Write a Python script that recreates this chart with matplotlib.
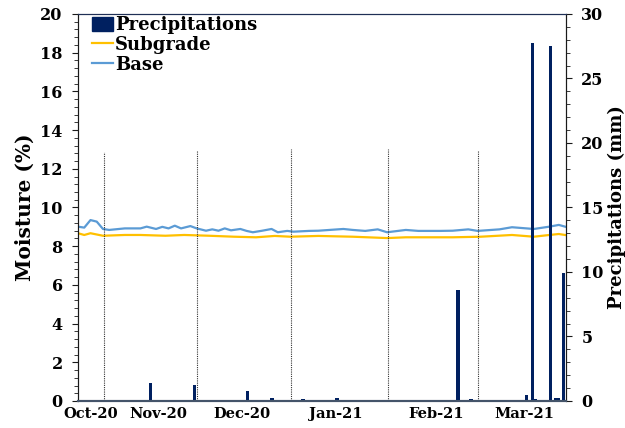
import matplotlib.pyplot as plt
from matplotlib.ticker import MultipleLocator
from matplotlib.patches import Patch
from matplotlib.lines import Line2D

plt.rcParams['font.family'] = ['DejaVu Serif']
plt.rcParams['font.weight'] = 'bold'

# days counted from the start of the record
base_days = [0, 2, 4, 6, 8, 10, 15, 20, 22, 25, 27, 29, 31, 33, 36, 38, 41, 43, 45, 47,
             49, 52, 54, 56, 59, 62, 64, 67, 69, 74, 77, 85, 88, 92, 96, 99, 105, 109,
             116, 120, 125, 128, 135, 139, 146, 151, 154, 156]
base = [9.01, 8.96, 9.35, 9.27, 8.89, 8.84, 8.92, 8.92, 9.01, 8.89, 9.00, 8.92, 9.06,
        8.92, 9.04, 8.92, 8.80, 8.87, 8.80, 8.92, 8.82, 8.89, 8.79, 8.72, 8.80, 8.89,
        8.72, 8.79, 8.75, 8.79, 8.80, 8.89, 8.84, 8.79, 8.87, 8.72, 8.84, 8.79, 8.79,
        8.80, 8.87, 8.79, 8.87, 8.98, 8.89, 9.01, 9.10, 9.01]

sub_days = [0, 2, 4, 8, 15, 20, 28, 34, 42, 50, 57, 63, 68, 77, 88, 99, 105, 120, 129,
            139, 146, 151, 154, 156]
subgrade = [8.67, 8.58, 8.67, 8.54, 8.58, 8.58, 8.54, 8.58, 8.54, 8.49, 8.46, 8.53, 8.49,
            8.53, 8.49, 8.42, 8.46, 8.46, 8.49, 8.58, 8.49, 8.58, 8.63, 8.58]

rain_days = [7.6, 9.5, 19.5, 20.5, 23.2, 37.3, 54.3, 62.1, 72, 83, 104, 106.7, 114, 114.8,
             120.8, 121.7, 125.9, 143.6, 145.5, 146.4, 151.4, 153.1, 153.9, 155.5]
rain = [0.1, 0.1, 0.05, 0.05, 1.42, 1.22, 0.78, 0.2, 0.15, 0.2, 0.1, 0.1, 0.1, 0.1,
        0.1, 8.6, 0.15, 0.45, 27.75, 0.15, 27.5, 0.2, 0.2, 9.9]

sample_days = [8.3, 38.0, 68.1, 99.4, 128.2]
sample_top = [12.85, 12.9, 13.0, 13.0, 12.9]

month_pos = [4.2, 25.6, 52.6, 82.6, 114.8, 142.9]
month_labels = ['Oct-20', 'Nov-20', 'Dec-20', 'Jan-21', 'Feb-21', 'Mar-21']

fig = plt.figure(figsize=(6.25, 4.28), dpi=100)
ax = fig.add_axes([0.1248, 0.0631, 0.7808, 0.9042])
ax2 = ax.twinx()

ax.plot(sub_days, subgrade, color='#FFC000', lw=1.6)
ax.plot(base_days, base, color='#5B9BD5', lw=1.6)
for d, t in zip(sample_days, sample_top):
    ax.plot([d, d], [0, t], color='#333333', lw=0.8, ls=(0, (1, 1)))

ax2.bar(rain_days, rain, width=1.1, color='#002060')

ax.set_xlim(0, 156.3)
ax.set_ylim(0, 20)
ax2.set_ylim(0, 30)
ax.yaxis.set_major_locator(MultipleLocator(2))
ax.yaxis.set_minor_locator(MultipleLocator(0.4))
ax2.yaxis.set_major_locator(MultipleLocator(5))
ax2.yaxis.set_minor_locator(MultipleLocator(1))

ax.set_xticks(month_pos)
ax.set_xticklabels(month_labels, fontsize=10.5, fontweight='bold')
ax.tick_params(axis='x', length=0, pad=4)
ax.tick_params(axis='y', which='major', length=4, labelsize=11.5, pad=7, color='#1a1a1a')
ax.tick_params(axis='y', which='minor', length=3, color='#1a1a1a')
ax2.tick_params(axis='y', which='major', length=4, labelsize=11.5, pad=7, color='#1a1a1a')
ax2.tick_params(axis='y', which='minor', length=3, color='#1a1a1a')

ax.set_ylabel('Moisture (%)', fontsize=14.5, fontweight='bold', labelpad=4)
ax2.set_ylabel('Precipitations (mm)', fontsize=13, fontweight='bold', labelpad=3)

for a in (ax, ax2):
    a.spines['bottom'].set_color('#44546A')
    a.spines['bottom'].set_linewidth(1.5)
    a.spines['top'].set_color('#1F2F55')
    a.spines['top'].set_linewidth(0.8)
    a.spines['left'].set_color('#1a1a1a')
    a.spines['right'].set_color('#1a1a1a')

handles = [Patch(color='#002060'),
           Line2D([], [], color='#FFC000', lw=1.6),
           Line2D([], [], color='#5B9BD5', lw=1.6)]
ax2.legend(handles, ['Precipitations', 'Subgrade', 'Base'], loc='upper left',
           bbox_to_anchor=(0.002, 1.027), frameon=False, fontsize=13,
           handlelength=1.2, handleheight=0.8, handletextpad=0.1,
           labelspacing=0.1, borderpad=0.2)

fig.savefig('out.png', dpi=100)
